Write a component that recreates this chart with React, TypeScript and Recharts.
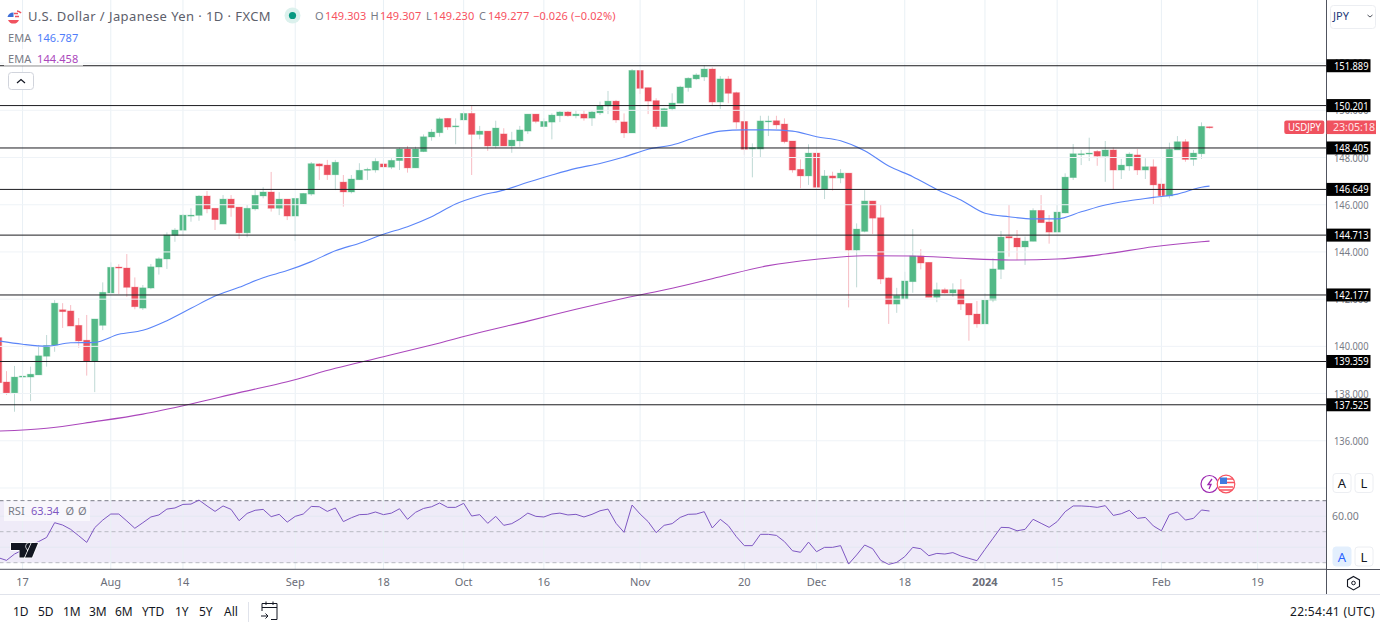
import {
  Bar,
  ComposedChart,
  Line,
  ReferenceArea,
  ReferenceLine,
  XAxis,
  YAxis,
} from 'recharts';

const highs = [
  140.48, 138.95, 139.17, 139.42, 139.14, 140.06, 140.48, 141.96, 141.83, 141.75,
  141.2, 141.33, 141.16, 142.71, 143.56, 143.48, 143.91, 142.92, 142.6, 143.49,
  143.77, 144.83, 145.01, 145.61, 145.85, 146.41, 146.58, 145.85, 146.41, 146.41,
  145.9, 145.99, 146.65, 146.74, 147.39, 146.53, 146.24, 146.27, 146.5, 147.81,
  147.76, 147.9, 147.9, 147.26, 147.26, 147.76, 147.57, 147.97, 147.9, 147.97,
  148.42, 148.49, 148.46, 148.98, 149.21, 149.7, 149.66, 149.66, 149.94, 150.18,
  149.34, 149.12, 149.56, 149.24, 149.09, 149.34, 149.84, 149.84, 149.66, 149.87,
  149.97, 149.97, 150.01, 150.01, 149.97, 150.37, 150.82, 150.44, 149.87, 151.75,
  151.71, 150.96, 150.51, 150.11, 150.72, 151.04, 151.4, 151.57, 151.92, 151.82,
  151.45, 151.45, 150.79, 150.01, 148.6, 149.77, 149.77, 149.77, 149.66, 148.7,
  147.92, 148.56, 148.36, 147.47, 147.4, 147.51, 147.34, 145.21, 146.62, 146.16,
  145.99, 142.92, 142.48, 143.16, 144.97, 144.12, 143.56, 142.7, 142.48, 142.67,
  142.85, 141.82, 141.92, 142.25, 143.73, 144.89, 145.99, 144.93, 144.65, 145.85,
  146.41, 145.56, 145.99, 147.33, 148.57, 148.32, 148.84, 148.32, 148.7, 148.42,
  147.94, 148.22, 148.36, 147.97, 147.92, 147.12, 148.63, 148.91, 148.78, 148.32,
  149.49, 149.307,
];

const lows = [
  138.36, 137.94, 137.23, 137.98, 137.68, 138.79, 139.14, 139.77, 140.78, 140.86,
  139.94, 138.76, 138.06, 140.69, 142.25, 142.22, 142.1, 141.57, 141.54, 142.42,
  143.04, 143.28, 144.43, 144.69, 145.28, 145.32, 145.64, 144.93, 145.18, 145.49,
  144.55, 144.62, 145.75, 146.27, 145.71, 145.56, 145.35, 144.46, 146.03, 146.38,
  147.05, 147.05, 146.62, 145.92, 146.48, 147.05, 147.05, 147.36, 147.57, 147.51,
  147.47, 147.36, 147.56, 148.23, 148.71, 148.88, 149.17, 148.56, 149.56, 147.26,
  148.77, 148.28, 148.39, 148.49, 148.2, 148.46, 149.0, 149.45, 149.28, 148.77,
  149.5, 149.73, 149.66, 149.56, 149.34, 149.8, 149.84, 149.47, 148.83, 149.04,
  150.69, 149.84, 149.2, 149.31, 149.97, 150.3, 150.79, 151.28, 151.24, 150.18,
  150.06, 150.3, 149.22, 148.11, 147.16, 148.01, 148.91, 149.21, 148.6, 147.36,
  146.7, 146.84, 146.65, 146.24, 146.6, 146.91, 141.65, 142.5, 144.83, 144.76,
  142.64, 140.95, 141.42, 142.01, 142.27, 143.26, 142.08, 141.87, 142.23, 142.1,
  141.54, 140.24, 140.79, 140.95, 141.87, 142.85, 143.8, 143.66, 143.45, 144.45,
  145.24, 144.35, 144.84, 145.64, 147.05, 147.68, 147.85, 147.65, 146.97, 146.65,
  147.09, 147.44, 147.26, 147.09, 146.03, 145.92, 146.27, 148.32, 147.82, 147.65,
  147.94, 149.23,
];

const opens = [
  140.37, 138.49, 138.03, 138.71, 138.7, 138.79, 139.58, 140.05, 141.55, 141.5,
  140.89, 140.26, 139.38, 140.89, 142.26, 143.36, 143.32, 142.51, 141.62, 142.47,
  143.36, 143.7, 144.7, 144.92, 145.53, 145.55, 146.37, 145.85, 145.18, 146.24,
  145.9, 144.81, 145.82, 146.37, 146.54, 145.85, 146.24, 145.52, 146.03, 146.45,
  147.73, 147.68, 147.27, 146.96, 146.54, 147.06, 147.47, 147.47, 147.73, 147.59,
  147.87, 148.36, 147.56, 148.25, 148.87, 149.05, 149.66, 149.31, 149.59, 149.87,
  148.98, 149.12, 148.49, 149.0, 148.49, 148.7, 149.12, 149.84, 149.31, 149.5,
  149.77, 149.93, 149.77, 149.84, 149.67, 149.89, 150.18, 150.39, 149.51, 149.04,
  151.69, 150.96, 150.41, 149.31, 150.06, 150.3, 150.96, 151.33, 151.41, 151.75,
  150.35, 151.33, 150.75, 149.53, 148.36, 148.36, 149.52, 149.56, 149.42, 148.7,
  147.5, 147.22, 148.19, 146.65, 147.22, 147.13, 147.34, 144.08, 144.87, 146.16,
  145.45, 142.9, 141.79, 142.01, 142.74, 143.83, 143.56, 142.08, 142.4, 142.26,
  142.4, 141.82, 141.37, 140.95, 141.96, 143.26, 144.65, 144.59, 144.21, 144.45,
  145.76, 145.27, 144.84, 145.65, 147.15, 148.14, 148.16, 148.26, 148.06, 148.32,
  147.47, 147.64, 148.11, 147.47, 147.61, 146.88, 146.37, 148.32, 148.67, 147.92,
  148.16, 149.303,
];

const closes = [
  138.46, 138.03, 138.7, 138.74, 138.82, 139.6, 140.04, 141.83, 141.47, 140.86,
  140.23, 139.38, 141.16, 142.29, 143.35, 143.32, 142.5, 141.68, 142.48, 143.37,
  143.71, 144.72, 144.93, 145.56, 145.56, 146.37, 145.82, 145.37, 146.24, 145.87,
  144.81, 145.85, 146.4, 146.54, 145.85, 146.24, 145.52, 146.27, 146.48, 147.74,
  147.64, 147.27, 147.8, 146.54, 147.09, 147.46, 147.5, 147.84, 147.6, 147.88,
  148.36, 147.56, 148.36, 148.88, 149.08, 149.64, 149.29, 149.34, 149.87, 148.98,
  149.12, 148.49, 149.25, 148.49, 148.74, 149.17, 149.84, 149.53, 149.53, 149.8,
  149.93, 149.77, 149.84, 149.67, 149.93, 150.21, 150.39, 149.59, 149.04, 151.69,
  150.93, 150.39, 149.31, 150.07, 150.31, 150.99, 151.36, 151.5, 151.75, 150.35,
  151.33, 150.72, 149.5, 148.35, 148.42, 149.55, 149.55, 149.38, 148.67, 147.47,
  147.22, 148.19, 146.74, 147.22, 147.13, 147.34, 144.08, 144.97, 146.16, 145.43,
  142.85, 141.79, 142.15, 142.77, 143.83, 143.53, 142.08, 142.4, 142.26, 142.4,
  141.79, 141.33, 140.95, 141.96, 143.28, 144.63, 144.59, 144.21, 144.46, 145.76,
  145.24, 144.84, 145.69, 147.17, 148.16, 148.16, 148.19, 148.06, 148.32, 147.47,
  147.68, 148.15, 147.47, 147.61, 146.84, 146.38, 148.35, 148.67, 147.92, 148.19,
  149.32, 149.277,
];

// read every 3rd bar, plus the last one
const emaFast = [
  140.23, 140.09, 140.01, 140.15, 140.17, 140.51, 140.68, 141.09, 141.61, 142.13,
  142.5, 142.91, 143.21, 143.59, 144.05, 144.37, 144.75, 145.07, 145.49, 146.03,
  146.38, 146.62, 146.95, 147.26, 147.54, 147.75, 148.02, 148.35, 148.53, 148.86,
  149.12, 149.17, 149.17, 149.12, 148.88, 148.71, 148.29, 147.64, 147.19, 146.65,
  146.2, 145.64, 145.49, 145.4, 145.4, 145.7, 145.99, 146.17, 146.31, 146.45,
  146.74, 146.787,
];

// read every 6th bar, plus the last one
const emaSlow = [
  136.41, 136.53, 136.81, 137.13, 137.56, 138.04, 138.5, 139.07, 139.56, 140.06,
  140.59, 141.07, 141.57, 142.04, 142.46, 142.95, 143.42, 143.69, 143.84, 143.83,
  143.73, 143.66, 143.7, 143.91, 144.22, 144.43, 144.458,
];

const rsiValues = [
  33.2, 31.5, 35.6, 38.2, 41.4, 43.6, 46.3, 55.8, 54.3, 51.5,
  47.4, 43.1, 52.6, 57.5, 61.4, 61.4, 56.9, 52.2, 55.8, 59.5,
  60.8, 64.6, 65.3, 67.6, 67.8, 70.4, 66.6, 63.1, 66.6, 64.4,
  57.1, 61.8, 63.8, 64.4, 59.7, 61.2, 56.2, 59.9, 61.4, 66.3,
  66.1, 63.1, 65.3, 56.5, 59, 61, 61.2, 62.7, 61, 62,
  64.8, 58, 62.5, 65, 66.1, 68.5, 65.7, 65.7, 68.3, 60.1,
  61, 55.4, 59.9, 54.1, 55.2, 58.2, 62, 59.9, 59.5, 61.4,
  62, 60.8, 61.2, 59.5, 61.2, 63.5, 64.6, 55.4, 49.6, 67.2,
  61.4, 56.5, 49.4, 54.1, 55.2, 59.2, 61.2, 61.4, 62.9, 52.4,
  58, 53.9, 46.8, 41, 41, 48.3, 48.3, 47.6, 43.6, 37.7,
  36.7, 43.3, 37.1, 39.9, 39.9, 41, 29.1, 35, 41.4, 39,
  31.5, 28.9, 30.2, 33.9, 39.9, 39, 34.5, 36, 35.6, 36.5,
  34.3, 32.8, 31.3, 38.6, 45.7, 52.8, 52.6, 50.6, 51.5, 58,
  55.4, 52.8, 56.5, 62.9, 66.6, 66.6, 66.3, 65.7, 66.8, 60.5,
  61.6, 63.8, 58.6, 59.2, 53.7, 50.6, 61, 62.7, 57.5, 58.6,
  64, 63.34,
];

const timeTicks = [3, 14, 23, 37, 48, 58, 68, 80, 93, 102, 113, 123, 132, 145, 157];
const timeLabels = ['17', 'Aug', '14', 'Sep', '18', 'Oct', '16', 'Nov', '20', 'Dec', '18', '2024', '15', 'Feb', '19'];
const priceTicks = [136, 138, 140, 142, 144, 146, 148, 150, 152];
const extraGridLines = [134];
const levels = [151.889, 150.201, 148.405, 146.649, 144.713, 142.177, 139.359, 137.525];
const lastPrice = 149.277;
const rangeButtons = [
  ['1D', 13], ['5D', 38], ['1M', 63], ['3M', 89], ['6M', 115],
  ['YTD', 142], ['1Y', 175], ['5Y', 199], ['All', 224],
] as const;

const WIDTH = 1380;
const PLOT_RIGHT = 1326.5;
const AXIS_WIDTH = WIDTH - PLOT_RIGHT;
const FONT = '"Noto Sans", sans-serif';
const UP = '#53b987';
const DOWN = '#eb4d5c';
const GRID = '#e9f0f5';
const AXIS = '#50535e';
const TEXT = '#6a6d78';
const X_DOMAIN = [0.187, 165.586];

const bars = highs.map((high, i) => ({
  i,
  high,
  low: lows[i],
  open: opens[i],
  close: closes[i],
  range: [lows[i], high],
  rsi: rsiValues[i],
  emaFast: i === highs.length - 1 ? emaFast[emaFast.length - 1] : i % 3 === 0 ? emaFast[i / 3] : null,
  emaSlow: i === highs.length - 1 ? emaSlow[emaSlow.length - 1] : i % 6 === 0 ? emaSlow[i / 6] : null,
}));

function Candle(props: any) {
  const { x, y, width, height, payload } = props;
  const unit = height / (payload.high - payload.low);
  const up = payload.close >= payload.open;
  const top = y + (payload.high - Math.max(payload.open, payload.close)) * unit;
  const bodyHeight = Math.max(Math.abs(payload.open - payload.close) * unit, 1);
  const cx = x + width / 2;
  const fill = up ? UP : DOWN;
  return (
    <g>
      <line x1={cx} x2={cx} y1={y} y2={y + height} stroke={up ? '#bfd9d5' : '#f7bcc3'} strokeWidth={1} />
      <rect x={cx - 3.8} y={top - 0.4} width={7.6} height={bodyHeight + 0.8} fill={fill} fillOpacity={0.35} />
      <rect x={cx - 3.1} y={top} width={6.2} height={bodyHeight} fill={fill} />
    </g>
  );
}

function PriceTick(props: any) {
  const { y, payload } = props;
  const value = payload.value;
  const textX = 1334;
  if (value === lastPrice) {
    return (
      <g fontFamily={FONT} fontSize={10.5} fill="#fff">
        <rect x={1284.3} y={y - 6.9} width={40} height={13.6} rx={2} fill="#f0525f" />
        <text x={1288} y={y + 3.6} textLength={33} lengthAdjust="spacingAndGlyphs">USDJPY</text>
        <rect x={PLOT_RIGHT} y={y - 6.9} width={49.5} height={13.6} fill="#f0525f" />
        <text x={1333} y={y + 3.6} fill="#ffe3e6" textLength={42} lengthAdjust="spacingAndGlyphs">23:05:18</text>
      </g>
    );
  }
  if (levels.includes(value)) {
    return (
      <g fontFamily={FONT} fontSize={11}>
        <rect x={PLOT_RIGHT} y={y - 6.5} width={44} height={13} fill="#000" />
        <text x={textX} y={y + 4} fill="#fff" textLength={34.5} lengthAdjust="spacingAndGlyphs">{value.toFixed(3)}</text>
      </g>
    );
  }
  return (
    <text x={textX} y={y + 4} fontFamily={FONT} fontSize={11} fill="#787b86" textLength={34.5} lengthAdjust="spacingAndGlyphs">
      {value.toFixed(3)}
    </text>
  );
}

function TimeTick(props: any) {
  const { x, y, payload } = props;
  const label = timeLabels[timeTicks.indexOf(payload.value)];
  return (
    <text
      x={x}
      y={y + 9}
      textAnchor="middle"
      fontFamily={FONT}
      fontSize={11}
      fontWeight={label === '2024' ? 700 : 400}
      fill={TEXT}
    >
      {label}
    </text>
  );
}

function RsiTick(props: any) {
  const { y, payload } = props;
  return (
    <text x={1332} y={y + 4} fontFamily={FONT} fontSize={10.5} fill="#787b86">
      {payload.value.toFixed(2)}
    </text>
  );
}

function PriceChart() {
  return (
    <ComposedChart width={WIDTH} height={496} data={bars} margin={{ top: 0, right: 0, bottom: 0, left: 0 }}>
      <XAxis dataKey="i" type="number" domain={X_DOMAIN} allowDataOverflow hide />
      <YAxis
        orientation="right"
        width={AXIS_WIDTH}
        domain={[133.66, 154.674]}
        allowDataOverflow
        ticks={[...priceTicks, ...levels, lastPrice]}
        interval={0}
        tick={<PriceTick />}
        tickLine={false}
        axisLine={{ stroke: AXIS }}
      />
      {timeTicks.map((t) => (
        <ReferenceLine key={t} x={t} stroke={GRID} />
      ))}
      {[...priceTicks, ...extraGridLines].map((p) => (
        <ReferenceLine key={p} y={p} stroke="#eff3f7" />
      ))}
      <Bar dataKey="range" barSize={6} shape={<Candle />} isAnimationActive={false} />
      <Line dataKey="emaFast" type="monotone" connectNulls dot={false} stroke="#5b85f8" strokeWidth={1.1} isAnimationActive={false} />
      <Line dataKey="emaSlow" type="monotone" connectNulls dot={false} stroke="#ab47bc" strokeWidth={1.1} isAnimationActive={false} />
      {levels.map((l) => (
        <ReferenceLine key={l} y={l} stroke="#1c1c20" strokeWidth={1} />
      ))}
    </ComposedChart>
  );
}

function RsiChart() {
  return (
    <ComposedChart width={WIDTH} height={98} data={bars} margin={{ top: 0, right: 0, bottom: 0, left: 0 }}>
      <XAxis
        dataKey="i"
        type="number"
        domain={X_DOMAIN}
        allowDataOverflow
        ticks={timeTicks}
        interval={0}
        height={24.7}
        tick={<TimeTick />}
        tickLine={false}
        axisLine={{ stroke: AXIS }}
      />
      <YAxis
        orientation="right"
        width={AXIS_WIDTH}
        domain={[25.74, 73.03]}
        allowDataOverflow
        ticks={[60]}
        tick={<RsiTick />}
        tickLine={false}
        axisLine={{ stroke: AXIS }}
      />
      <ReferenceArea y1={30} y2={70} fill="#7e57c2" fillOpacity={0.12} stroke="none" />
      {timeTicks.map((t) => (
        <ReferenceLine key={t} x={t} stroke={GRID} />
      ))}
      <ReferenceLine y={60} stroke="#e4e8f2" />
      <ReferenceLine y={40} stroke="#e4e8f2" />
      <ReferenceLine y={70} stroke="#787b86" strokeDasharray="4 3" />
      <ReferenceLine y={50} stroke="#b8bac2" strokeDasharray="4 3" />
      <ReferenceLine y={30} stroke="#b8bac2" strokeDasharray="4 3" />
      <Line dataKey="rsi" dot={false} stroke="#7e57c2" strokeWidth={1} isAnimationActive={false} />
    </ComposedChart>
  );
}

function AxisButton({ x, y, label, active }: { x: number; y: number; label: string; active?: boolean }) {
  return (
    <g>
      <rect x={x} y={y} width={18} height={19} rx={3} fill={active ? '#e3effd' : '#fff'} stroke={active ? '#e3effd' : '#eceef2'} />
      <text x={x + 9} y={y + 14.5} textAnchor="middle" fontFamily={FONT} fontSize={13} fill={active ? '#2962ff' : '#131722'}>
        {label}
      </text>
    </g>
  );
}

function Overlay() {
  const red = '#f7525f';
  const grey = '#787b86';
  return (
    <svg width={WIDTH} height={628} style={{ position: 'absolute', left: 0, top: 0, pointerEvents: 'none' }}>
      <g fontFamily={FONT}>
        {/* symbol line */}
        <circle cx={13} cy={18} r={6} fill="#fff" />
        <path d="M8 20h11a6 6 0 0 1-11 0z" fill="#f0525f" />
        <path d="M7.5 17h6v-4.5a6 6 0 0 0-6 4.5z" fill="#3f6fd8" />
        <path d="M14 13.5h4M15 16.5h4" stroke="#f0525f" strokeWidth={1.6} />
        <path d="M17 11a6 6 0 0 1 4 2" stroke="#f0525f" strokeWidth={1.6} fill="none" />
        <text x={28} y={21} fontSize={13} letterSpacing={0.42} fill="#5d606b">
          U.S. Dollar / Japanese Yen · 1D · FXCM
        </text>
        <circle cx={292.5} cy={15.5} r={8} fill="#dcf1ed" />
        <circle cx={292.5} cy={15.5} r={3.6} fill="#089981" />

        <g fontSize={11} letterSpacing={0.1}>
          <text x={315} y={20} fill={grey}>O</text>
          <text x={325} y={20} fill={red}>149.303</text>
          <text x={370.5} y={20} fill={grey}>H</text>
          <text x={380} y={20} fill={red}>149.307</text>
          <text x={426} y={20} fill={grey}>L</text>
          <text x={433} y={20} fill={red}>149.230</text>
          <text x={479} y={20} fill={grey}>C</text>
          <text x={488} y={20} fill={red}>149.277</text>
          <text x={533} y={20} fill={red}>−0.026 (−0.02%)</text>
        </g>

        {/* study legends */}
        <rect x={4} y={49} width={79} height={17} fill="#fff" fillOpacity={0.65} />
        <g fontSize={11} letterSpacing={0.1}>
          <text x={8} y={42} fill={grey}>EMA</text>
          <text x={37} y={42} fill="#4f7dfa">146.787</text>
          <text x={8} y={63} fill={grey}>EMA</text>
          <text x={37} y={63} fill="#ab47bc">144.458</text>
        </g>
        <rect x={8.5} y={72.5} width={25} height={17} rx={3} fill="#fff" stroke="#d1d4dc" />
        <path d="M17 83l4-3.5 4 3.5" fill="none" stroke="#131722" strokeWidth={1.2} />

        {/* currency picker */}
        <rect x={1330.5} y={5.5} width={45} height={23} rx={3} fill="#fff" stroke="#eceef2" />
        <text x={1333} y={20} fontSize={11} fill="#1f3a7a">JPY</text>
        <path d="M1367.5 15l2.5 2 2.5-2" fill="none" stroke="#50535e" strokeWidth={1} />

        {/* event markers */}
        <circle cx={1209.5} cy={484} r={8.5} fill="#fff" stroke="#9c27b0" strokeWidth={1.2} />
        <path d="M1212 479l-4 5.5h3l-2 4.5" fill="none" stroke="#9c27b0" strokeWidth={1.3} />
        <circle cx={1226} cy={484} r={8.8} fill="#fff" stroke={red} strokeWidth={1.2} />
        <path d="M1219 487h14M1219 490h13" stroke={red} strokeWidth={1.6} />
        <rect x={1220} y={477.5} width={7} height={6.5} fill="#3f7be0" />
        <path d="M1227 479h6M1227 482.5h7" stroke={red} strokeWidth={1.4} />

        {/* rsi legend */}
        <rect x={4} y={501} width={86} height={20} fill="#fff" fillOpacity={0.6} />
        <text x={8} y={515} fontSize={11} fill={grey}>RSI</text>
        <text x={31} y={515} fontSize={11} fill="#7e57c2">63.34</text>
        <text x={65.5} y={515} fontSize={11} fill={grey}>Ø</text>
        <text x={78} y={515} fontSize={11} fill={grey}>Ø</text>

        {/* logo */}
        <g stroke="#fff" strokeWidth={1.5} paintOrder="stroke">
          <path d="M11 543h16v14.5h-7.5v-7.5H11z" fill="#131722" />
          <circle cx={29.5} cy={546.5} r={3.4} fill="#131722" />
          <path d="M31.5 543h6.5l-6 14.5h-7z" fill="#131722" />
        </g>

        <AxisButton x={1333} y={473.5} label="A" />
        <AxisButton x={1355} y={473.5} label="L" />
        <AxisButton x={1333} y={547} label="A" active />
        <AxisButton x={1355} y={547} label="L" />

        {/* axis corner and bottom bar */}
        <line x1={PLOT_RIGHT} x2={PLOT_RIGHT} y1={569} y2={594} stroke={AXIS} />
        <line x1={PLOT_RIGHT} x2={WIDTH} y1={569.5} y2={569.5} stroke={AXIS} />
        <line x1={0} x2={WIDTH} y1={594.5} y2={594.5} stroke="#e0e3eb" />
        <path d="M1353.5 576.5l6 3.4v6.6l-6 3.4-6-3.4v-6.6z" fill="#fff" stroke="#131722" strokeWidth={1.1} />
        <circle cx={1353.5} cy={583} r={1.8} fill="none" stroke="#131722" />

        {rangeButtons.map(([label, x]) => (
          <text key={label} x={x} y={616} fontSize={12} fill="#131722">
            {label}
          </text>
        ))}
        <line x1={248.5} x2={248.5} y1={602} y2={622} stroke="#e0e3eb" />
        <path
          d="M262 611v-7.5h15v16h-6M262 607.5h15M266 601.5v3.5M273 601.5v3.5M261 616h7m-2.5-2.5l2.5 2.5-2.5 2.5"
          fill="none"
          stroke="#131722"
          strokeWidth={1}
        />
        <text x={1290} y={616} fontSize={12} letterSpacing={0.3} fill="#131722">22:54:41 (UTC)</text>
      </g>
    </svg>
  );
}

export default function App() {
  return (
    <div style={{ position: 'absolute', left: 0, top: 0, width: WIDTH, height: 628, background: '#fff', overflow: 'hidden' }}>
      <div style={{ position: 'absolute', left: 0, top: 0 }}>
        <PriceChart />
      </div>
      <div style={{ position: 'absolute', left: 0, top: 496 }}>
        <RsiChart />
      </div>
      <Overlay />
    </div>
  );
}
